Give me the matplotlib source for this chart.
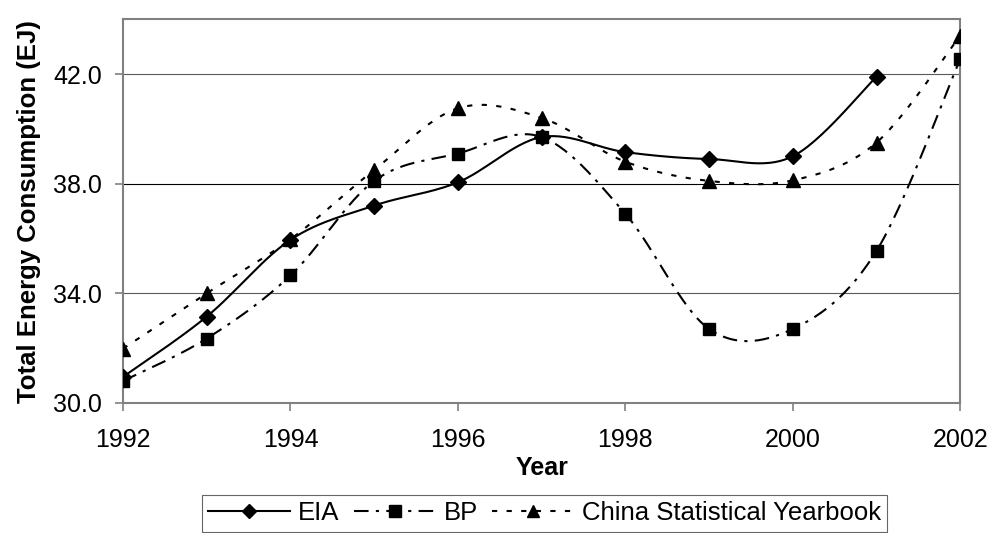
import numpy as np
import matplotlib.pyplot as plt

plt.rcParams['font.family'] = ['Liberation Sans', 'DejaVu Sans']

years = [1992, 1993, 1994, 1995, 1996, 1997, 1998, 1999, 2000, 2001, 2002]
eia = [30.95, 33.15, 35.95, 37.2, 38.05, 39.7, 39.15, 38.9, 39.0, 41.9]
bp = [30.8, 32.35, 34.65, 38.1, 39.1, 39.7, 36.9, 32.7, 32.7, 35.55, 42.55]
csy = [31.98, 34.0, 35.97, 38.5, 40.75, 40.4, 38.8, 38.1, 38.12, 39.5, 43.4]


def smooth(xs, ys, n=30):
    # Catmull-Rom style curve through the points (Bezier form)
    x = np.asarray(xs, float)
    y = np.asarray(ys, float)
    px = np.concatenate([[x[0]], x, [x[-1]]])
    py = np.concatenate([[y[0]], y, [y[-1]]])
    t = np.linspace(0, 1, n)
    ox, oy = [], []
    for i in range(1, len(px) - 2):
        p0 = np.array([px[i - 1], py[i - 1]])
        p1 = np.array([px[i], py[i]])
        p2 = np.array([px[i + 1], py[i + 1]])
        p3 = np.array([px[i + 2], py[i + 2]])
        b1 = p1 + (p2 - p0) / 6
        b2 = p2 - (p3 - p1) / 6
        pts = ((1 - t) ** 3)[:, None] * p1 + (3 * (1 - t) ** 2 * t)[:, None] * b1 \
            + (3 * (1 - t) * t ** 2)[:, None] * b2 + (t ** 3)[:, None] * p2
        ox.extend(pts[:, 0])
        oy.extend(pts[:, 1])
    return ox, oy


fig = plt.figure(figsize=(9.92, 5.33), dpi=100)
ax = fig.add_axes([0.124, 0.244, 0.844, 0.720])

series = [
    ("EIA", eia, 'D', 8, '-'),
    ("BP", bp, 's', 9, (0, (7, 3.5, 1.5, 3.5))),
    ("China Statistical Yearbook", csy, '^', 10, (0, (2.5, 4.5))),
]
for name, vals, mk, ms, ls in series:
    xs = years[:len(vals)]
    sx, sy = smooth(xs, vals)
    ax.plot(sx, sy, color='black', lw=1.5, ls=ls, zorder=3)
    ax.plot(xs, vals, ls='none', marker=mk, ms=ms, color='black', zorder=4)
    # proxy for legend entry
    ax.plot([], [], color='black', lw=1.5, ls=ls, marker=mk, ms=ms - 1, label=name)

ax.set_xlim(1992, 2002)
ax.set_ylim(30, 44)
ax.set_xticks(range(1992, 2003, 2))
ax.set_yticks([30, 34, 38, 42])
ax.set_yticklabels(['30.0', '34.0', '38.0', '42.0'])
ax.grid(axis='y', color='#5a5a5a', lw=0.8)
ax.get_ygridlines()[2].set_color('black')
ax.set_axisbelow(True)
for s in ax.spines.values():
    s.set_color('#808080')
    s.set_linewidth(1.5)
ax.tick_params(axis='both', labelsize=18, color='#808080', length=6, width=1.2)
ax.tick_params(axis='y', pad=9)
ax.tick_params(axis='x', pad=12)

ax.set_xlabel("Year", fontsize=18, fontweight='bold', labelpad=3)
ax.set_ylabel("Total Energy Consumption (EJ)", fontsize=18.5, fontweight='bold', labelpad=9)

leg = fig.legend(loc='upper center', bbox_to_anchor=(0.549, 0.0713), ncol=3,
                 fontsize=18.5, frameon=True, fancybox=False, edgecolor='#404040',
                 handlelength=3.2, columnspacing=0.55, handletextpad=0.3,
                 borderpad=0.25, borderaxespad=0)
leg.get_frame().set_linewidth(0.8)

fig.savefig('out.png', dpi=100)
